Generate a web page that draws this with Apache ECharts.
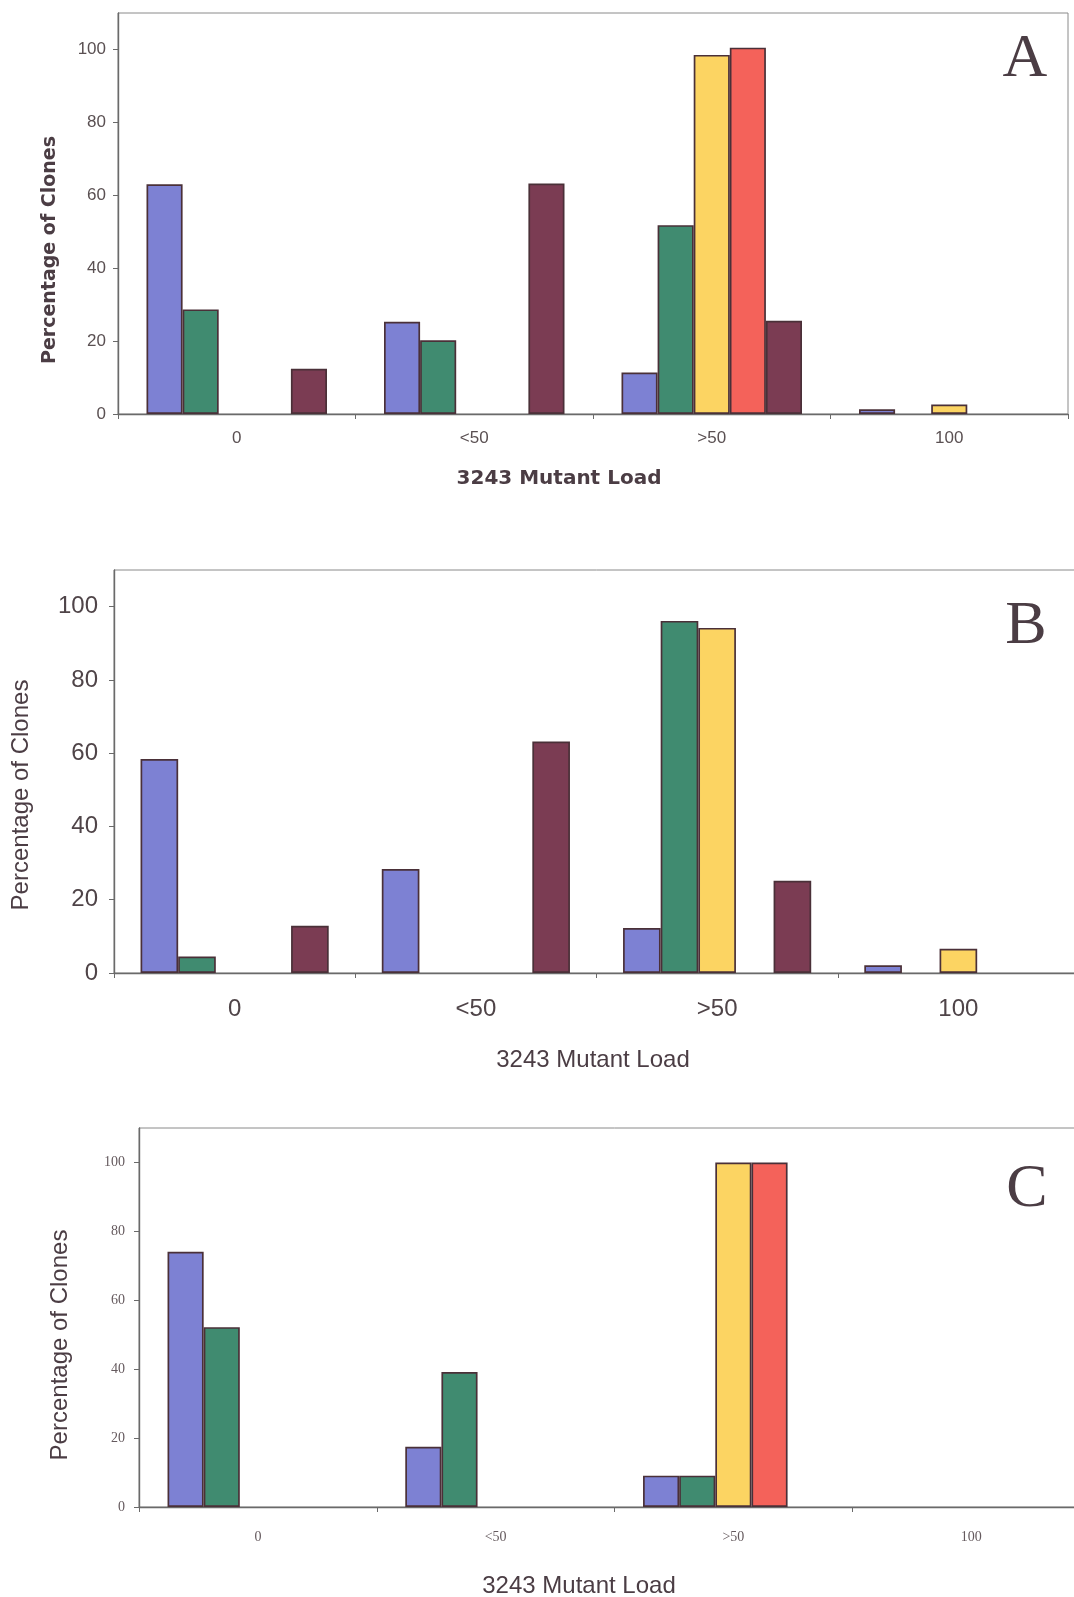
<!DOCTYPE html>
<html>
<head>
<meta charset="utf-8">
<script src="https://cdn.jsdelivr.net/npm/echarts@6/dist/echarts.min.js"></script>
<style>
  html, body { margin: 0; padding: 0; background: #fff; overflow: hidden; }
  /* wider than the window on purpose: panels B and C run off the right edge */
  #main { width: 1120px; height: 1597px; }
</style>
</head>
<body>
<div id="main"></div>
<script>
// categories of mutant load
const categories = ['0', '<50', '>50', '100']
const yTickValues = [0, 20, 40, 60, 80, 100]

// panel A (percentage of clones per series)
const aBlue = [63, 25.3, 11.4, 1.3]
const aGreen = [28.7, 20.2, 51.8, 0]
const aYellow = [0, 0, 98.5, 2.6]
const aRed = [0, 0, 100.5, 0]
const aMaroon = [12.4, 63.2, 25.6, 0]

// panel B
const bBlue = [58.4, 28.4, 12.3, 2.1]
const bGreen = [4.5, 0, 96.1, 0]
const bYellow = [0, 0, 94.2, 6.6]
const bRed = [0, 0, 0, 0]
const bMaroon = [12.9, 63.2, 25.2, 0]

// panel C
const cBlue = [74.1, 17.5, 9.1, 0]
const cGreen = [52.2, 39.2, 9.1, 0]
const cYellow = [0, 0, 100, 0]
const cRed = [0, 0, 100, 0]
const cMaroon = [0, 0, 0, 0]

const colors = ['#7d81d3', '#408b70', '#fcd462', '#f4625a', '#7b3c53']
const sans = 'Liberation Sans, Arial, sans-serif'
const serif = 'Liberation Serif, Times New Roman, serif'
const textColor = '#4b3d44'

const panels = [
  {
    grid: { left: 118, top: 13, width: 950, height: 401 },
    gap: '24%',
    data: [aBlue, aGreen, aYellow, aRed, aMaroon],
    tickFont: { fontFamily: sans, fontSize: 17, color: '#5a5052' },
    xMargin: 16, yMargin: 12
  },
  {
    grid: { left: 114, top: 570, width: 965, height: 403 },
    gap: '22%',
    data: [bBlue, bGreen, bYellow, bRed, bMaroon],
    tickFont: { fontFamily: sans, fontSize: 24, color: '#4f4448' },
    xMargin: 24, yMargin: 16
  },
  {
    grid: { left: 139, top: 1128, width: 951, height: 379 },
    gap: '24%',
    data: [cBlue, cGreen, cYellow, cRed, cMaroon],
    tickFont: { fontFamily: serif, fontSize: 14, color: '#655a5e' },
    xMargin: 23, yMargin: 14
  }
]

const grids = []
const xAxes = []
const yAxes = []
const series = []

panels.forEach((p, i) => {
  grids.push(Object.assign({
    show: true,
    borderColor: '#8a8a8a',
    borderWidth: 1,
    backgroundColor: 'transparent'
  }, p.grid))
  xAxes.push({
    type: 'category',
    gridIndex: i,
    data: categories,
    axisLine: { lineStyle: { color: '#6a6a6a', width: 1.4 } },
    axisTick: { show: true, length: 5, interval: 0, lineStyle: { color: '#6a6a6a' } },
    axisLabel: Object.assign({ interval: 0, margin: p.xMargin }, p.tickFont)
  })
  yAxes.push({
    type: 'value',
    gridIndex: i,
    min: 0,
    max: 110,
    interval: 20,
    splitLine: { show: false },
    axisLine: { show: true, lineStyle: { color: '#6a6a6a', width: 1.4 } },
    axisTick: { show: true, length: 5, customValues: yTickValues, lineStyle: { color: '#6a6a6a' } },
    axisLabel: Object.assign({ margin: p.yMargin, customValues: yTickValues }, p.tickFont)
  })
  p.data.forEach((vals, k) => {
    series.push({
      type: 'bar',
      xAxisIndex: i,
      yAxisIndex: i,
      data: vals.map(v => (v === 0 ? '-' : v)),
      barGap: '0%',
      barCategoryGap: p.gap,
      itemStyle: { color: colors[k], borderColor: '#4a3038', borderWidth: 1.7 },
      animation: false
    })
  })
})

function label(x, y, text, font, rotate) {
  return {
    type: 'text',
    x: x,
    y: y,
    rotation: rotate ? Math.PI / 2 : 0,
    style: {
      text: text,
      font: font,
      fill: textColor,
      align: 'center',
      verticalAlign: 'middle'
    }
  }
}

const graphics = [
  // panel A
  label(50, 250, 'Percentage of Clones', 'bold 19px DejaVu Sans', true),
  label(559, 479, '3243 Mutant Load', 'bold 20px DejaVu Sans', false),
  label(1025, 60, 'A', '62px Liberation Serif', false),
  // panel B
  label(21, 795, 'Percentage of Clones', '24px Liberation Sans', true),
  label(593, 1060, '3243 Mutant Load', '24px Liberation Sans', false),
  label(1026, 627, 'B', '62px Liberation Serif', false),
  // panel C
  label(60, 1345, 'Percentage of Clones', '24px Liberation Sans', true),
  label(579, 1586, '3243 Mutant Load', '24px Liberation Sans', false),
  label(1027, 1190, 'C', '62px Liberation Serif', false)
]

const chart = echarts.init(document.getElementById('main'))
chart.setOption({
  backgroundColor: '#ffffff',
  animation: false,
  grid: grids,
  xAxis: xAxes,
  yAxis: yAxes,
  series: series,
  graphic: graphics
})
</script>
</body>
</html>
